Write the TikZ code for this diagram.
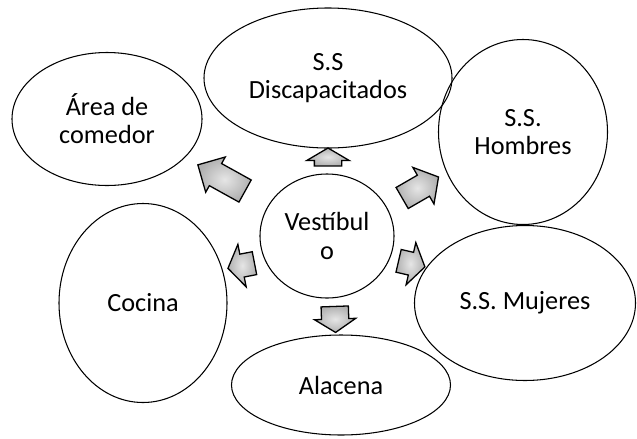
\documentclass[tikz,border=0pt]{standalone}
\usepackage{fontspec}
\setmainfont{Carlito}
\usepackage{xcolor}
\usepackage{tikz}
\usetikzlibrary{shapes.geometric,shapes.arrows,positioning}

\begin{document}
\begin{tikzpicture}[x=0.03cm, y=-0.03cm,
  room/.style={draw, ellipse, line width=.9pt, inner sep=0pt, align=center, font=\fontsize{22.4}{24}\selectfont},
  flow/.style={draw, single arrow, line width=1.1pt, inner xsep=0pt, inner color=gray!20, outer color=gray!62}]
  \useasboundingbox (0,0) rectangle (637,438);
  % rooms
  \node[room, minimum width=5.70cm, minimum height=3.99cm] (comedor) at (107,119) {Área de\\comedor};
  \node[room, minimum width=7.44cm, minimum height=4.20cm] (disc) at (328,78) {S.S\\Discapacitados};
  \node[room, minimum width=5.07cm, minimum height=5.55cm] (hombres) at (523,132) {S.S.\\Hombres};
  \node[room, minimum width=4.02cm, minimum height=3.72cm] (vest) at (327,236) {Vestíbul\\o};
  \node[room, minimum width=5.04cm, minimum height=5.97cm] (cocina) at (143,303) {Cocina};
  \node[room, minimum width=6.63cm, minimum height=4.65cm] (mujeres) at (525,303) {S.S. Mujeres};
  \node[room, minimum width=6.57cm, minimum height=3.00cm] (alacena) at (341,385) {Alacena};
  % block arrows out of the hall
  \node[flow, rotate=90, inner ysep=.39cm, minimum height=.54cm, minimum width=1.23cm, single arrow head extend=.225cm, single arrow tip angle=119] (toDisc) at (328,161) {};
  \node[flow, rotate=151, inner ysep=.36cm, minimum height=1.62cm, minimum width=1.17cm, single arrow head extend=.225cm, single arrow tip angle=90] (toComedor) at (227,181) {};
  \node[flow, rotate=30, inner ysep=.345cm, minimum height=1.26cm, minimum width=1.23cm, single arrow head extend=.27cm, single arrow tip angle=101] (toHombres) at (416,190) {};
  \node[flow, rotate=191, inner ysep=.33cm, minimum height=.81cm, minimum width=1.26cm, single arrow head extend=.3cm, single arrow tip angle=113] (toCocina) at (245,265) {};
  \node[flow, rotate=-13, inner ysep=.33cm, minimum height=.81cm, minimum width=1.26cm, single arrow head extend=.3cm, single arrow tip angle=113] (toMujeres) at (408,263) {};
  \node[flow, rotate=-88, inner ysep=.39cm, minimum height=.78cm, minimum width=1.2cm, single arrow head extend=.21cm, single arrow tip angle=114] (toAlacena) at (335,315) {};
\end{tikzpicture}
\end{document}
